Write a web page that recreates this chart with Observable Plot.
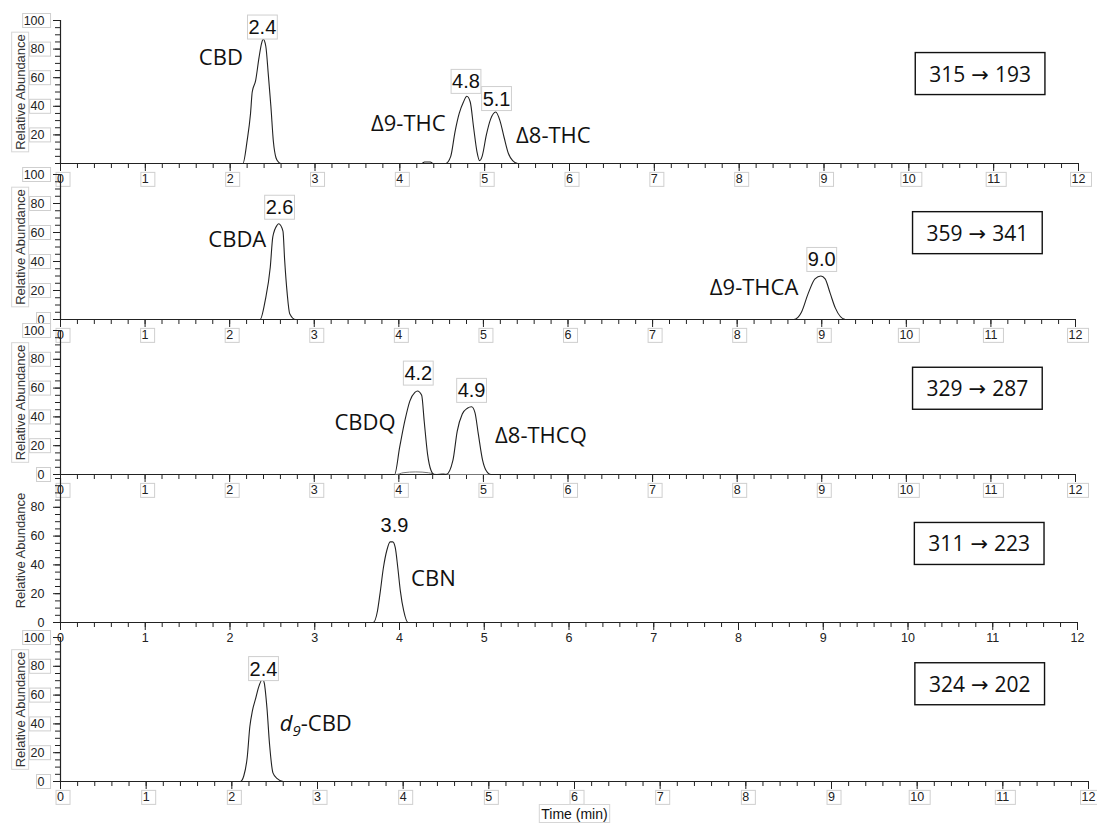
<!DOCTYPE html>
<html>
<head>
<meta charset="utf-8">
<script src="https://cdn.jsdelivr.net/npm/d3@7"></script>
<script src="https://cdn.jsdelivr.net/npm/@observablehq/plot@0.6"></script>
<style>
  html, body { margin: 0; padding: 0; background: #fff; }
  #chart { position: relative; width: 1097px; height: 829px; overflow: hidden; font-family: "Liberation Sans", Arial, sans-serif; }
</style>
</head>
<body>
<div id="chart"></div>
<script>
// ---------- data ----------
const xMinorTicks = d3.range(0, 61).map(i => i / 5);
const xMajorTicks = [0, 1, 2, 3, 4, 5, 6, 7, 8, 9, 10, 11, 12];
const yMinorTicks = d3.range(0, 101, 5);

// Panel 1: 315→193
const p1Time  = [0, 2.15, 2.20, 2.24, 2.26, 2.30, 2.34, 2.37, 2.39, 2.42, 2.45, 2.48, 2.51, 2.54, 2.57, 2.60, 4.26, 4.29, 4.36, 4.39, 4.54, 4.60, 4.65, 4.70, 4.75, 4.79, 4.83, 4.87, 4.91, 4.94, 4.97, 5.02, 5.07, 5.13, 5.18, 5.23, 5.28, 5.33, 5.39, 7];
const p1Abund = [0, 0, 16, 35, 50, 58, 74, 84, 87, 82, 62, 40, 15, 4, 1, 0, 0, 1, 1, 0, 0, 5, 22, 35, 43, 47, 43, 25, 8, 2, 5, 20, 31, 36, 30, 18, 7, 2, 0, 0];
const p1Peaks = ["2.4", "4.8", "5.1"], p1PeakX = [2.38, 4.78, 5.14], p1PeakY = [95, 57, 45];
const p1Names = ["CBD", "Δ9-THC", "Δ8-THC"], p1NameX = [1.89, 4.10, 5.81], p1NameY = [74, 28, 19];
const p1Trans = "315→193";

// Panel 2: 359→341
const p2Time  = [0, 2.36, 2.42, 2.48, 2.51, 2.56, 2.58, 2.63, 2.65, 2.68, 2.71, 2.78, 8.67, 8.76, 8.84, 8.92, 8.99, 9.04, 9.10, 9.16, 9.28, 12];
const p2Abund = [0, 0, 13, 36, 57, 65, 66, 61, 41, 18, 4, 0, 0, 5, 18, 28, 30, 28, 18, 8, 0, 0];
const p2Peaks = ["2.6", "9.0"], p2PeakX = [2.59, 9.0], p2PeakY = [77, 41];
const p2Names = ["CBDA", "Δ9-THCA"], p2NameX = [2.09, 8.2], p2NameY = [55, 22];
const p2Trans = "359→341";

// Panel 3: 329→287
const p3Time  = [0, 3.95, 4.01, 4.07, 4.13, 4.19, 4.22, 4.27, 4.30, 4.34, 4.38, 4.42, 4.56, 4.64, 4.69, 4.75, 4.81, 4.86, 4.90, 4.94, 4.99, 5.03, 5.09, 7];
const p3Abund = [0, 0, 19, 37, 51, 57, 58, 55, 37, 14, 3, 0, 0, 10, 30, 42, 46, 47, 43, 28, 10, 3, 0, 0];
const p3Time2  = [0, 3.97, 4.05, 4.20, 4.35, 4.45, 4.52, 4.58, 7];
const p3Abund2 = [0, 0, 1.2, 1.8, 1.2, 0, 0.6, 0, 0];
const p3Peaks = ["4.2", "4.9"], p3PeakX = [4.23, 4.86], p3PeakY = [70, 58];
const p3Names = ["CBDQ", "Δ8-THCQ"], p3NameX = [3.6, 5.68], p3NameY = [36, 27];
const p3Trans = "329→287";

// Panel 4: 311→223
const p4Time  = [0, 3.69, 3.74, 3.77, 3.81, 3.85, 3.89, 3.92, 3.95, 3.98, 4.01, 4.05, 4.10, 7];
const p4Abund = [0, 0, 8, 20, 38, 50, 56, 56, 52, 38, 22, 8, 0, 0];
const p4Peaks = ["3.9"], p4PeakX = [3.94], p4PeakY = [67];
const p4Names = ["CBN"], p4NameX = [4.4], p4NameY = [30];
const p4Trans = "311→223";

// Panel 5: 324→202
const p5Time  = [0, 2.10, 2.14, 2.18, 2.21, 2.24, 2.28, 2.31, 2.36, 2.38, 2.41, 2.44, 2.48, 2.53, 2.60, 7.02];
const p5Abund = [0, 0, 4, 17, 38, 49, 58, 65, 71, 68, 51, 26, 6, 2, 0, 0];
const p5Peaks = ["2.4"], p5PeakX = [2.37], p5PeakY = [78];
const p5Names = ["d9-CBD"], p5NameX = [2.98], p5NameY = [40];
const p5Trans = "324→202";

const yTicksFull = [0, 20, 40, 60, 80, 100];
const yTicksP1 = [20, 40, 60, 80, 100];
const yTicksP4 = [0, 20, 40, 60, 80];
const yTitle = "Relative Abundance";
const xTitle = "Time (min)";

// ---------- layout ----------
const panels = [
  {time: p1Time, abund: p1Abund, peaks: p1Peaks, peakX: p1PeakX, peakY: p1PeakY, names: p1Names, nameX: p1NameX, nameY: p1NameY, trans: p1Trans, transX: 10.84, transY: 62, yTicks: yTicksP1, top: 20, plotH: 143, right: 19, boxed: true},
  {time: p2Time, abund: p2Abund, peaks: p2Peaks, peakX: p2PeakX, peakY: p2PeakY, names: p2Names, nameX: p2NameX, nameY: p2NameY, trans: p2Trans, transX: 10.84, transY: 59, yTicks: yTicksFull, top: 174, plotH: 145, right: 22, boxed: true},
  {time: p3Time, abund: p3Abund, time2: p3Time2, abund2: p3Abund2, peaks: p3Peaks, peakX: p3PeakX, peakY: p3PeakY, names: p3Names, nameX: p3NameX, nameY: p3NameY, trans: p3Trans, transX: 10.84, transY: 59, yTicks: yTicksFull, top: 330, plotH: 144, right: 22, boxed: true},
  {time: p4Time, abund: p4Abund, peaks: p4Peaks, peakX: p4PeakX, peakY: p4PeakY, names: p4Names, nameX: p4NameX, nameY: p4NameY, trans: p4Trans, transX: 10.84, transY: 54, yTicks: yTicksP4, top: 478, plotH: 144, right: 20, boxed: false},
  {time: p5Time, abund: p5Abund, peaks: p5Peaks, peakX: p5PeakX, peakY: p5PeakY, names: p5Names, nameX: p5NameX, nameY: p5NameY, trans: p5Trans, transX: 10.73, transY: 67, yTicks: yTicksFull, top: 637, plotH: 144, right: 9, boxed: true, last: true}
];

const ink = "#222";
const numFont = "'Liberation Sans', Arial, sans-serif";
const nameFont = "'Open Sans', 'Liberation Sans', sans-serif";

function makePanel(c) {
  const mt = 14, mb = c.last ? 48 : 30;
  const marks = [
    Plot.axisX(xMinorTicks, {tickSize: 5, tickFormat: () => "", label: null}),
    Plot.axisX(xMajorTicks, {tickSize: 8, tickPadding: 3, fontSize: 12.5, label: null}),
    Plot.axisY(yMinorTicks, {tickSize: 5, tickFormat: () => "", label: null}),
    Plot.axisY(c.yTicks, {tickSize: 7, tickPadding: 9, fontSize: 12.5, label: null}),
    Plot.ruleX([0], {stroke: ink, strokeWidth: 1.2}),
    Plot.ruleY([0], {stroke: ink, strokeWidth: 1.2})
  ];
  if (c.time2) {
    marks.push(Plot.line(c.time2, {x: c.time2, y: c.abund2, stroke: "#777", strokeWidth: 1, curve: "monotone-x"}));
  }
  marks.push(
    Plot.line(c.time, {x: c.time, y: c.abund, stroke: ink, strokeWidth: 1.1, curve: "monotone-x"}),
    Plot.text(c.peaks, {x: c.peakX, y: c.peakY, text: d => d, fontSize: 20, fontFamily: numFont, fill: "#111"}),
    Plot.text(c.names, {x: c.nameX, y: c.nameY, text: d => d, fontSize: 22, fontFamily: nameFont, fill: "#111"}),
    Plot.text([c.trans], {x: [c.transX], y: [c.transY], text: d => d, fontSize: 21, fontFamily: nameFont, fill: "#111"}),
    Plot.text([yTitle], {frameAnchor: "left", textAnchor: "middle", dx: -40, rotate: -90, fontSize: 13, fontFamily: numFont, fill: "#333"})
  );
  if (c.last) {
    marks.push(Plot.text([xTitle], {frameAnchor: "bottom", textAnchor: "middle", dy: 37, fontSize: 14, fontFamily: numFont, fill: "#111"}));
  }
  const svg = Plot.plot({
    width: 1097,
    height: mt + c.plotH + mb,
    marginLeft: 60, marginRight: c.right, marginTop: mt, marginBottom: mb,
    x: {domain: [0, 12], label: null},
    y: {domain: [0, 100], label: null},
    style: {background: "transparent", overflow: "visible", color: ink, fontFamily: numFont, fontSize: "12px"},
    marks
  });
  svg.style.position = "absolute";
  svg.style.left = "0px";
  svg.style.top = (c.top - mt) + "px";
  return svg;
}

const ns = "http://www.w3.org/2000/svg";
function addBox(t, p, fill, stroke, sw) {
  const b = t.getBBox();
  if (!b.width) return;
  const r = document.createElementNS(ns, "rect");
  r.setAttribute("x", b.x - p[3]);
  r.setAttribute("y", b.y - p[0]);
  r.setAttribute("width", b.width + p[1] + p[3]);
  r.setAttribute("height", b.height + p[0] + p[2]);
  r.setAttribute("fill", fill);
  r.setAttribute("stroke", stroke);
  r.setAttribute("stroke-width", sw);
  const tr = t.getAttribute("transform");
  if (tr) r.setAttribute("transform", tr);
  t.parentNode.insertBefore(r, t);
}
function tspan(txt, attrs) {
  const s = document.createElementNS(ns, "tspan");
  s.textContent = txt;
  for (const k in attrs) s.setAttribute(k, attrs[k]);
  return s;
}

const chart = document.getElementById("chart");
panels.forEach(c => {
  const svg = makePanel(c);
  chart.appendChild(svg);

  if (c.boxed) {
    svg.querySelectorAll('g[aria-label$="tick label"] text').forEach(t => {
      if (t.textContent.trim()) addBox(t, [0, 6, 0, 1], "#fff", "#cfcfcf", 1);
    });
  }

  Array.from(svg.querySelectorAll("text")).forEach(t => {
    const s = t.textContent;
    if (s === c.trans) {
      const parts = s.split("→");
      t.textContent = "";
      t.append(tspan(parts[0], {}), tspan("→", {dx: 6, "font-family": "'DejaVu Sans', sans-serif"}), tspan(parts[1], {dx: 6}));
      addBox(t, [7, 14, 7, 14], "#fff", "#111", 1.4);
    } else if (c.names.includes(s)) {
      if (s === "d9-CBD") {
        t.textContent = "";
        t.append(tspan("d", {"font-style": "italic"}), tspan("9", {"font-style": "italic", "font-size": 15, dy: 5}), tspan("-CBD", {dy: -5}));
      }
    } else if (c.peaks.includes(s)) {
      if (c.boxed) addBox(t, [1, 1, 1, 1], "#fff", "#cfcfcf", 1);
    } else if (s === yTitle || s === xTitle) {
      if (c.boxed) addBox(t, [1, 2, 1, 2], "#fff", "#d6d6d6", 1);
    }
  });
});
</script>
</body>
</html>
